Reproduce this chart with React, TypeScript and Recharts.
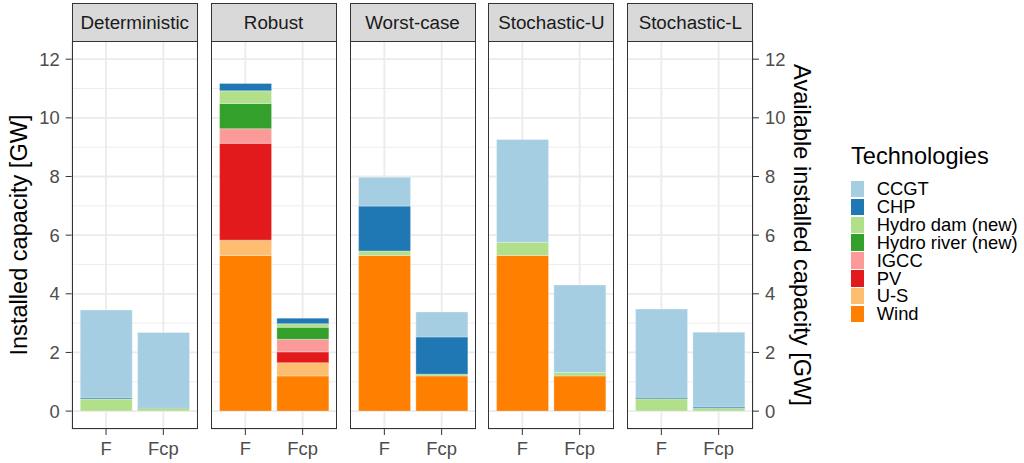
import { Bar, BarChart, CartesianGrid, Label, XAxis, YAxis } from "recharts";

// facets and bars
const panels = ["Deterministic", "Robust", "Worst-case", "Stochastic-U", "Stochastic-L"];
const barLabels = ["F", "Fcp"];

// values in GW, order: Det F, Det Fcp, Rob F, Rob Fcp, WC F, WC Fcp, SU F, SU Fcp, SL F, SL Fcp
const ccgt = [3.0, 2.55, 0, 0, 0.98, 0.85, 3.5, 2.98, 3.01, 2.55];
const chp = [0.04, 0.03, 0.25, 0.19, 1.53, 1.27, 0, 0, 0.05, 0.04];
const hydroDam = [0.41, 0.1, 0.43, 0.12, 0.15, 0.06, 0.45, 0.12, 0.42, 0.1];
const hydroRiver = [0, 0, 0.86, 0.41, 0, 0, 0, 0, 0, 0];
const igcc = [0, 0, 0.5, 0.43, 0, 0, 0, 0, 0, 0];
const pv = [0, 0, 3.3, 0.37, 0, 0, 0, 0, 0, 0];
const us = [0, 0, 0.52, 0.45, 0, 0, 0, 0, 0, 0];
const wind = [0, 0, 5.31, 1.2, 5.31, 1.2, 5.31, 1.2, 0, 0];

const yTicks = [0, 1, 2, 3, 4, 5, 6, 7, 8, 9, 10, 11, 12];

// legend order (top to bottom); stacking goes the other way
const techs = [
    { name: "CCGT", values: ccgt, color: "#A6CEE3" },
    { name: "CHP", values: chp, color: "#1F78B4" },
    { name: "Hydro dam (new)", values: hydroDam, color: "#B2DF8A" },
    { name: "Hydro river (new)", values: hydroRiver, color: "#33A02C" },
    { name: "IGCC", values: igcc, color: "#FB9A99" },
    { name: "PV", values: pv, color: "#E31A1C" },
    { name: "U-S", values: us, color: "#FDBF6F" },
    { name: "Wind", values: wind, color: "#FF7F00" },
];

const PANEL_LEFT = 71.7;
const PANEL_STEP = 138.9;
const PANEL_W = 126;
const PANEL_TOP = 41;
const PANEL_H = 388;
const AXIS_H = 34;
const LEFT_AXIS_W = 71.7;
const RIGHT_AXIS_W = 70;
const TICK_SIZE = 6;
const TICK_MARGIN = 6;
const SMALL = 18.4;
const BIG = 23.6;
const Y_DOMAIN = [-0.61, 12.62];

const buildRows = (p: number) =>
    barLabels.map((label, j) => {
        const row: any = { label };
        techs.forEach(t => { row[t.name] = t.values[p * 2 + j]; });
        return row;
    });

// major lines on even values, thinner minor lines in between
const gridLine = (props: any) => {
    const major = props.index % 2 === 0;
    return (
        <line
            key={`h-${props.index}`}
            x1={props.x1} x2={props.x2} y1={props.y1} y2={props.y2}
            stroke="#EBEBEB"
            strokeWidth={major ? 1.8 : 0.9}
        />
    );
};

const yTick = (side: "left" | "right") => (props: any) => {
    const { x, y, payload } = props;
    if (payload.value % 2 !== 0) return <g />;
    const left = side === "left";
    const lx = left ? x + TICK_MARGIN : x - TICK_MARGIN;
    return (
        <g>
            <line x1={lx} x2={left ? lx + TICK_SIZE : lx - TICK_SIZE} y1={y} y2={y} stroke="#333333" strokeWidth={1} />
            <text x={x} y={y} dy="0.355em" textAnchor={left ? "end" : "start"} fontSize={SMALL} fill="#4D4D4D">
                {payload.value}
            </text>
        </g>
    );
};

const leftTitle = (props: any) => {
    const vb = props.viewBox;
    const cx = vb.x + 18.5;
    const cy = vb.y + vb.height / 2;
    return (
        <text x={cx} y={cy} dy="0.35em" textAnchor="middle" fontSize={BIG} fill="#000" transform={`rotate(-90 ${cx} ${cy})`}>
            Installed capacity [GW]
        </text>
    );
};

const rightTitle = (props: any) => {
    const vb = props.viewBox;
    const cx = vb.x + 49.5;
    const cy = vb.y + vb.height / 2;
    return (
        <text x={cx} y={cy} dy="0.35em" textAnchor="middle" fontSize={BIG} fill="#000" transform={`rotate(90 ${cx} ${cy})`}>
            Available installed capacity [GW]
        </text>
    );
};

function Panel({ index }: { index: number }) {
    const first = index === 0;
    const last = index === panels.length - 1;
    const px = PANEL_LEFT + index * PANEL_STEP;
    const chartLeft = first ? px - LEFT_AXIS_W : px;
    const width = PANEL_W + (first ? LEFT_AXIS_W : 0) + (last ? RIGHT_AXIS_W : 0);
    const stackOrder = [...techs].reverse();

    return (
        <>
            {/* strip */}
            <div style={{
                position: "absolute", left: px, top: 3.3, width: PANEL_W, height: PANEL_TOP - 3.3 + 1,
                boxSizing: "border-box", border: "1px solid #333333", background: "#D9D9D9",
                display: "flex", alignItems: "center", justifyContent: "center",
                fontSize: 18.8, color: "#1A1A1A",
            }}>
                {panels[index]}
            </div>

            <div style={{ position: "absolute", left: chartLeft, top: PANEL_TOP }}>
                <BarChart
                    width={width}
                    height={PANEL_H + AXIS_H}
                    data={buildRows(index)}
                    margin={{ top: 0, right: 0, bottom: 0, left: 0 }}
                    barCategoryGap="5%"
                >
                    <CartesianGrid yAxisId="y" horizontal={gridLine} stroke="#EBEBEB" strokeWidth={1.8} />
                    <XAxis
                        dataKey="label"
                        height={AXIS_H}
                        padding={{ left: 5.7, right: 5.7 }}
                        axisLine={false}
                        tickSize={TICK_SIZE}
                        tickMargin={7}
                        tickLine={{ stroke: "#333333" }}
                        tick={{ fontSize: SMALL, fill: "#4D4D4D" }}
                    />
                    {first && (
                        <YAxis
                            yAxisId="y"
                            width={LEFT_AXIS_W}
                            domain={Y_DOMAIN}
                            ticks={yTicks}
                            interval={0}
                            allowDataOverflow
                            axisLine={false}
                            tickLine={false}
                            tickSize={TICK_SIZE}
                            tickMargin={TICK_MARGIN}
                            tick={yTick("left")}
                        >
                            <Label content={leftTitle} />
                        </YAxis>
                    )}
                    {last && (
                        <YAxis
                            yAxisId="y"
                            orientation="right"
                            width={RIGHT_AXIS_W}
                            domain={Y_DOMAIN}
                            ticks={yTicks}
                            interval={0}
                            allowDataOverflow
                            axisLine={false}
                            tickLine={false}
                            tickSize={TICK_SIZE}
                            tickMargin={TICK_MARGIN}
                            tick={yTick("right")}
                        >
                            <Label content={rightTitle} />
                        </YAxis>
                    )}
                    {!first && !last && (
                        <YAxis yAxisId="y" hide domain={Y_DOMAIN} ticks={yTicks} interval={0} allowDataOverflow />
                    )}
                    {stackOrder.map(t => (
                        <Bar
                            key={t.name}
                            yAxisId="y"
                            dataKey={t.name}
                            stackId="s"
                            fill={t.color}
                            stroke="#ffffff"
                            strokeOpacity={0.5}
                            strokeWidth={0.6}
                            isAnimationActive={false}
                        />
                    ))}
                </BarChart>
            </div>

            {/* panel border */}
            <div style={{
                position: "absolute", left: px, top: PANEL_TOP, width: PANEL_W, height: PANEL_H,
                boxSizing: "border-box", border: "1px solid #333333", pointerEvents: "none",
            }} />
        </>
    );
}

function TechLegend() {
    return (
        <div style={{ position: "absolute", left: 851, top: 143 }}>
            <div style={{ fontSize: BIG, lineHeight: "26px", color: "#000", whiteSpace: "nowrap" }}>Technologies</div>
            {techs.map((t, k) => (
                <div key={t.name} style={{ position: "absolute", left: 0, top: 37 + k * 17.9, height: 17.9, whiteSpace: "nowrap" }}>
                    <div style={{ position: "absolute", left: 0, top: 0.8, width: 12.5, height: 16.3, background: t.color }} />
                    <div style={{ position: "absolute", left: 25.7, top: 0, fontSize: SMALL, lineHeight: "17.9px", height: 17.9, color: "#000" }}>
                        {t.name}
                    </div>
                </div>
            ))}
        </div>
    );
}

export default function App() {
    return (
        <div style={{
            position: "absolute", left: 0, top: 0, width: 1024, height: 463, background: "#fff",
            fontFamily: "'Liberation Sans', Arial, sans-serif", overflow: "hidden",
        }}>
            {panels.map((_, i) => <Panel key={i} index={i} />)}
            <TechLegend />
        </div>
    );
}
